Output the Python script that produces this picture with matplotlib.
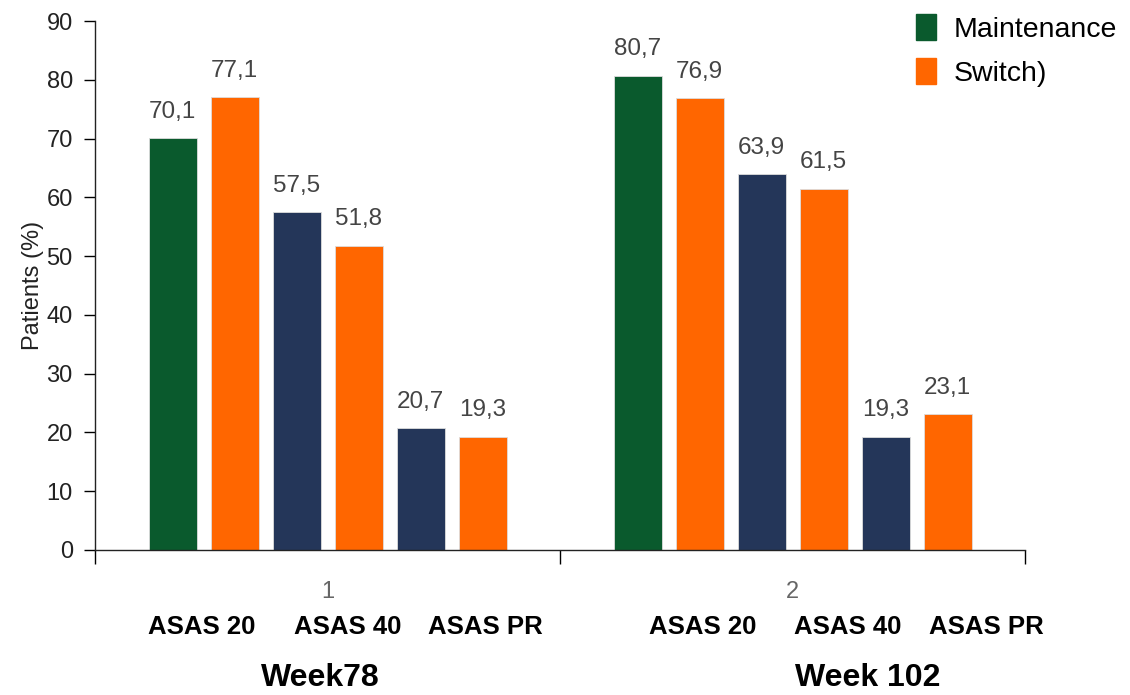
import numpy as np
import matplotlib
matplotlib.use("Agg")
import matplotlib.pyplot as plt
from matplotlib.patches import Patch

# Данные
weeks = ["Week78", "Week 102"]
week_ticks = ["1", "2"]
criteria = ["ASAS 20", "ASAS 40", "ASAS PR"]
values_w78 = [70.1, 77.1, 57.5, 51.8, 20.7, 19.3]
values_w102 = [80.7, 76.9, 63.9, 61.5, 19.3, 23.1]
series_names = ["Maintenance", "Switch)"]

green = "#0a5a2d"
orange = "#ff6600"
navy = "#243659"
bar_colors = [green, orange, navy, orange, navy, orange]

num_font = "Liberation Sans"

fig = plt.figure(figsize=(11.3, 6.95), dpi=100)
ax = fig.add_axes([95 / 1130, 1 - 550 / 695, 930 / 1130, 529 / 695])

step = 62 / 465
width = 48 / 465
offsets = (np.arange(6) - 2.5) * step

for g, vals in enumerate([values_w78, values_w102]):
    for i, v in enumerate(vals):
        ax.bar(g + offsets[i], v, width=width, color=bar_colors[i],
               edgecolor="#dddddd", linewidth=0.6, zorder=2)
        lbl = f"{v:.1f}".replace(".", ",")
        ax.annotate(lbl, (g + offsets[i], v), xytext=(0, 11),
                    textcoords="offset points", ha="center", va="bottom",
                    fontsize=17.5, color="#444444", family=num_font)

ax.set_xlim(-0.5, 1.5)
ax.set_ylim(0, 90)
ax.set_yticks(np.arange(0, 91, 10))
ax.set_yticklabels([str(t) for t in range(0, 91, 10)], fontsize=17,
                   family=num_font, color="#222222")
ax.tick_params(axis="y", length=8, width=1, direction="out", pad=8)

ax.set_xticks([0, 1])
ax.set_xticklabels(week_ticks, fontsize=17, family=num_font, color="#666666")
ax.tick_params(axis="x", which="major", length=0, pad=22)
ax.set_xticks([-0.5, 0.5, 1.5], minor=True)
ax.tick_params(axis="x", which="minor", length=10, width=1, direction="out")

for s in ["top", "right"]:
    ax.spines[s].set_visible(False)
for s in ["left", "bottom"]:
    ax.spines[s].set_linewidth(1.0)
    ax.spines[s].set_color("#222222")

ax.set_ylabel("Patients (%)", fontsize=17, family="Liberation Sans",
              color="#222222", labelpad=2)

# подписи критериев и недель под осью
trans = ax.get_xaxis_transform()
crit_x = [[-0.27, 0.044, 0.339], [0.8075, 1.119, 1.418]]
for g in range(2):
    for j, c in enumerate(criteria):
        ax.text(crit_x[g][j], -0.1456, c, transform=trans, ha="center",
                va="center", fontsize=18.5, fontweight="bold",
                family="Liberation Sans")
week_x = [-0.016, 1.162]
for g, w in enumerate(weeks):
    ax.text(week_x[g], -0.242, w, transform=trans, ha="center", va="center",
            fontsize=23, fontweight="bold", family="Liberation Sans")

handles = [Patch(color=green), Patch(color=orange)]
fig.legend(handles, series_names, loc="upper left",
           bbox_to_anchor=(902 / 1130, 1 - 0 / 695),
           bbox_transform=fig.transFigure, frameon=False, borderpad=0,
           handlelength=0.7, handleheight=1.0, handletextpad=0.62,
           labelspacing=0.55, prop={"family": "Liberation Sans", "size": 20.5})

fig.savefig("out.png", dpi=100)
